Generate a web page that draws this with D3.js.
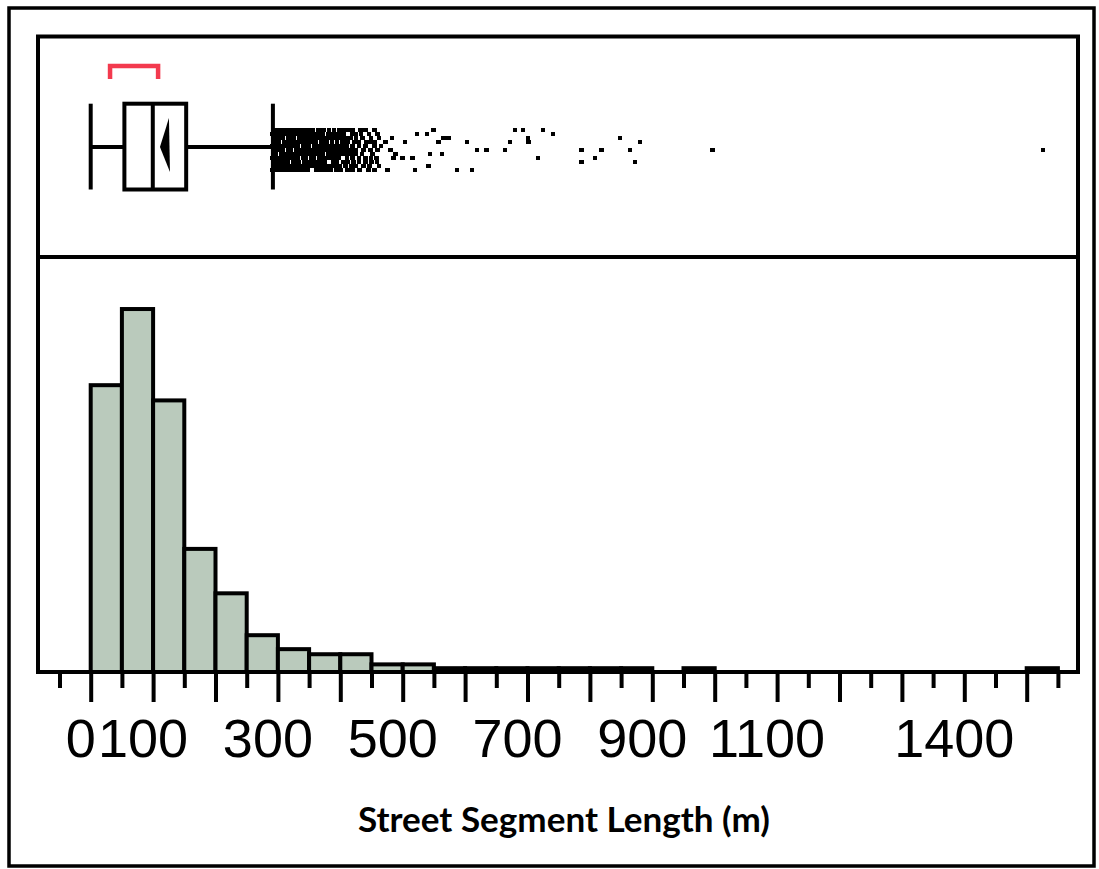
<!DOCTYPE html>
<html>
<head>
<meta charset="utf-8">
<script src="https://cdn.jsdelivr.net/npm/d3@7"></script>
<style>
  body { margin: 0; background: #fff; }
  svg { display: block; }
</style>
</head>
<body>
<svg id="chart"></svg>
<script>
// histogram bins (m), percent of segments
const binLow = [0, 50, 100, 150, 200, 250, 300, 350, 400, 450, 500, 550, 600, 650, 700, 750,
  800, 850, 900, 950, 1000, 1050, 1100, 1150, 1200, 1250, 1300, 1350, 1400, 1450, 1500]
const binPct = [22.6, 28.6, 21.4, 9.7, 6.2, 2.9, 1.8, 1.4, 1.4, 0.6, 0.6, 0.3, 0.3, 0.3, 0.3, 0.3,
  0.3, 0.3, 0, 0.3, 0, 0, 0, 0, 0, 0, 0, 0, 0, 0, 0.3]
const binWidth = 50

// box plot summary (m)
const boxMin = 0
const boxQ1 = 54
const boxMedian = 99.5
const boxQ3 = 153
const boxWhiskerHi = 292
const boxMean = 119
const shortestHalf = [31, 108]

// outliers: value (m) per jitter lane (-5 .. 5)
const outlierLanes = [-5, -4, -3, -2, -1, 0, 1, 2, 3, 4, 5]
const outlierRows = [
  [292, 297, 302, 307, 315, 320, 325, 333, 338, 343, 351, 356, 364, 369, 374, 382, 390, 398, 405, 410, 413, 420, 432, 440, 455, 549, 680, 693, 725],
  [291, 296, 301, 309, 314, 319, 324, 331, 336, 341, 349, 354, 359, 367, 372, 380, 386, 393, 400, 406, 419, 425, 433, 446, 460, 523, 539, 741],
  [293, 298, 303, 308, 316, 321, 326, 334, 339, 347, 352, 357, 365, 370, 378, 385, 392, 398, 405, 412, 417, 425, 436, 449, 462, 483, 565, 573, 701, 848],
  [292, 297, 302, 310, 315, 320, 328, 333, 338, 343, 351, 356, 361, 369, 374, 379, 387, 395, 404, 412, 423, 430, 442, 450, 455, 472, 504, 557, 603, 672, 702, 880],
  [291, 296, 304, 309, 314, 322, 327, 332, 340, 345, 350, 358, 363, 371, 376, 384, 392, 400, 405, 411, 420, 430, 440, 455, 465],
  [293, 298, 303, 308, 316, 321, 329, 334, 339, 347, 352, 360, 365, 370, 378, 386, 393, 399, 405, 410, 418, 425, 437, 448, 460, 480, 619, 634, 664, 787, 819, 864, 996, 1526],
  [292, 297, 305, 310, 315, 323, 328, 336, 341, 346, 354, 359, 367, 372, 380, 386, 392, 399, 405, 412, 418, 424, 435, 452, 488, 544, 563],
  [291, 296, 301, 309, 314, 322, 327, 332, 340, 345, 353, 358, 366, 371, 379, 385, 392, 398, 411, 420, 430, 440, 449, 458, 485, 500, 516, 717, 808],
  [293, 298, 303, 311, 316, 324, 329, 334, 342, 347, 355, 362, 368, 375, 388, 395, 405, 412, 421, 430, 440, 450, 459, 787, 872],
  [292, 297, 302, 307, 315, 320, 328, 333, 341, 346, 354, 361, 367, 374, 380, 386, 392, 399, 408, 418, 425, 437, 447, 462, 541],
  [291, 296, 304, 309, 317, 322, 330, 335, 343, 348, 361, 368, 374, 380, 385, 393, 400, 412, 420, 431, 445, 455, 476, 520, 587, 611]
]

// axis
const majorTicks = [0, 100, 200, 300, 400, 500, 600, 700, 800, 900, 1000, 1100, 1200, 1300, 1400, 1500]
const minorTicks = [-50, 50, 150, 250, 350, 450, 550, 650, 750, 850, 950, 1050, 1150, 1250, 1350, 1450, 1550]
const tickLabels = [0, 100, 300, 500, 700, 900, 1100, 1400]
const axisTitle = "Street Segment Length (m)"

let
  width = 1099,
  height = 869,
  frameL = 38,
  frameR = 1078,
  frameT = 36.5,
  divY = 257,
  baseY = 672,
  ink = "#000",
  lw = 4

let svg = d3.select("#chart")
  .attr("width", width)
  .attr("height", height)

let x = d3.scaleLinear().domain([0, 1500]).range([90.7, 1026.7])
let y = d3.scaleLinear().domain([0, 32.7]).range([baseY, divY])
let lane = d3.scalePoint().domain(outlierLanes).range([130, 170])

// outer border
svg.append("rect")
  .attr("x", 9).attr("y", 8)
  .attr("width", 1085).attr("height", 858)
  .attr("fill", "none").attr("stroke", ink).attr("stroke-width", 3.5)

// histogram bars
let bins = binLow.map((lo, i) => ({lo: lo, pct: binPct[i]})).filter(d => d.pct > 0)

svg.append("g").selectAll("rect")
  .data(bins).enter()
  .append("rect")
  .attr("x", d => x(d.lo))
  .attr("y", d => y(d.pct))
  .attr("width", d => x(d.lo + binWidth) - x(d.lo))
  .attr("height", d => baseY - y(d.pct))
  .attr("fill", "#bacabc")
  .attr("stroke", ink)
  .attr("stroke-width", lw)

// box plot
let boxTop = 103.7, boxBot = 189.5, midY = 147
let box = svg.append("g")
  .attr("stroke", ink)
  .attr("stroke-width", lw)
  .attr("fill", "none")

box.append("line")
  .attr("x1", x(boxMin)).attr("x2", x(boxQ1))
  .attr("y1", midY).attr("y2", midY)
box.append("line")
  .attr("x1", x(boxQ3)).attr("x2", x(boxWhiskerHi))
  .attr("y1", midY).attr("y2", midY)
box.selectAll(".cap")
  .data([boxMin, boxWhiskerHi]).enter()
  .append("line")
  .attr("class", "cap")
  .attr("x1", d => x(d)).attr("x2", d => x(d))
  .attr("y1", boxTop).attr("y2", boxBot)
box.append("rect")
  .attr("x", x(boxQ1)).attr("y", boxTop)
  .attr("width", x(boxQ3) - x(boxQ1))
  .attr("height", boxBot - boxTop)
box.append("line")
  .attr("x1", x(boxMedian)).attr("x2", x(boxMedian))
  .attr("y1", boxTop).attr("y2", boxBot)

let mx = x(boxMean)
svg.append("path")
  .attr("d", `M${mx - 5},${midY} L${mx + 4},118 L${mx + 5},172 Z`)
  .attr("fill", ink)

// shortest half bracket
svg.append("path")
  .attr("d", `M${x(shortestHalf[0])},79 V66 H${x(shortestHalf[1])} V79`)
  .attr("fill", "none")
  .attr("stroke", "#f33a4e")
  .attr("stroke-width", 4.5)

// outliers
let dots = []
outlierRows.forEach((row, i) => row.forEach(v => dots.push({v: v, lane: outlierLanes[i]})))
let ds = 4.6
svg.append("g")
  .attr("shape-rendering", "crispEdges")
  .selectAll("rect")
  .data(dots).enter()
  .append("rect")
  .attr("x", d => x(d.v) - ds / 2)
  .attr("y", d => lane(d.lane) - ds / 2)
  .attr("width", ds).attr("height", ds)
  .attr("fill", ink)

// inner frame + divider
svg.append("rect")
  .attr("x", frameL).attr("y", frameT)
  .attr("width", frameR - frameL).attr("height", baseY - frameT)
  .attr("fill", "none").attr("stroke", ink).attr("stroke-width", lw)
svg.append("line")
  .attr("x1", frameL).attr("x2", frameR)
  .attr("y1", divY).attr("y2", divY)
  .attr("stroke", ink).attr("stroke-width", lw)

// axis ticks
let axisG = svg.append("g")
  .attr("transform", `translate(0,${baseY})`)
  .call(d3.axisBottom(x).tickValues(majorTicks).tickSize(30).tickFormat(""))
axisG.select(".domain").remove()
axisG.selectAll(".tick line").attr("stroke", ink).attr("stroke-width", lw)

let minorG = svg.append("g")
  .attr("transform", `translate(0,${baseY})`)
  .call(d3.axisBottom(x).tickValues(minorTicks).tickSize(16).tickFormat(""))
minorG.select(".domain").remove()
minorG.selectAll(".tick line").attr("stroke", ink).attr("stroke-width", lw)

svg.append("g").selectAll("text")
  .data(tickLabels).enter()
  .append("text")
  .attr("x", d => x(d) - 10)
  .attr("y", 757)
  .attr("text-anchor", "middle")
  .attr("font-family", "'Liberation Sans', Arial, Helvetica, sans-serif")
  .attr("font-size", 54)
  .attr("fill", ink)
  .text(d => d)

// axis title
let title = svg.append("text")
  .attr("x", 564)
  .attr("y", 832)
  .attr("text-anchor", "middle")
  .attr("font-family", "Lato, 'Open Sans', sans-serif")
  .attr("font-weight", 700)
  .attr("font-size", 32)
  .attr("fill", ink)
  .text(axisTitle)

let tw = title.node().getComputedTextLength()
title.attr("font-size", 32 * 412 / tw)
</script>
</body>
</html>
